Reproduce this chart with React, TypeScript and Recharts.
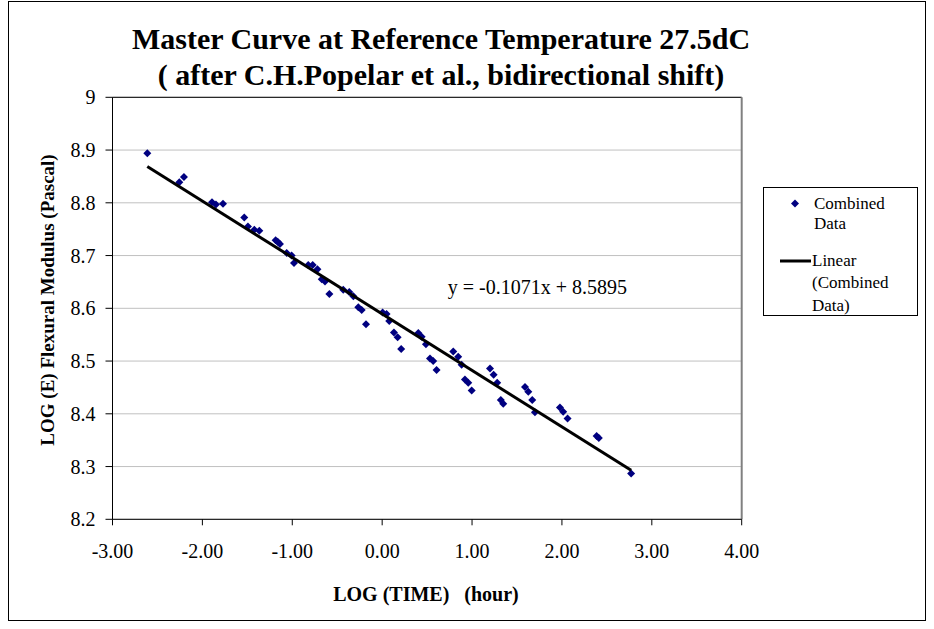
import React from 'react';
import {
  ScatterChart,
  Scatter,
  XAxis,
  YAxis,
  CartesianGrid,
  ReferenceLine,
  ReferenceDot,
} from 'recharts';

// Combined data
const logTime = [
  -2.613, -2.257, -2.205, -1.893, -1.849, -1.771, -1.534, -1.493, -1.422, -1.367,
  -1.185, -1.162, -1.137, -1.062, -1.007, -0.981, -0.822, -0.773, -0.72, -0.672,
  -0.636, -0.587, -0.433, -0.366, -0.32, -0.265, -0.228, -0.18, 0.005, 0.049,
  0.079, 0.131, 0.172, 0.212, 0.402, 0.439, 0.487, 0.532, 0.568, 0.605,
  0.791, 0.846, 0.884, 0.921, 0.958, 0.996, 1.2, 1.24, 1.28, 1.32,
  1.347, 1.589, 1.626, 1.67, 1.7, 1.978, 2.014, 2.063, 2.386, 2.41, 2.77,
];
const logE = [
  8.894, 8.839, 8.849, 8.801, 8.797, 8.798, 8.772, 8.755, 8.749, 8.747,
  8.729, 8.726, 8.722, 8.705, 8.7, 8.686, 8.682, 8.682, 8.674, 8.655,
  8.651, 8.627, 8.635, 8.631, 8.623, 8.602, 8.597, 8.57, 8.592, 8.589,
  8.576, 8.554, 8.545, 8.523, 8.553, 8.546, 8.532, 8.505, 8.5, 8.483,
  8.518, 8.508, 8.493, 8.465, 8.459, 8.444, 8.486, 8.474, 8.459, 8.426,
  8.419, 8.451, 8.442, 8.426, 8.403, 8.412, 8.404, 8.391, 8.358, 8.354, 8.287,
];

// linear trendline end points
const trendX = [-2.613, 2.77];
const trendY = [8.869, 8.293];

const xTicks = [-3, -2, -1, 0, 1, 2, 3, 4];
const yTicks = [8.2, 8.3, 8.4, 8.5, 8.6, 8.7, 8.8, 8.9, 9];

const equation = 'y = -0.1071x + 8.5895';

const points = logTime.map((x, i) => ({ x, y: logE[i] }));
const trend = trendX.map((x, i) => ({ x, y: trendY[i] }));

const FONT = '"Liberation Serif", "Times New Roman", serif';
const NAVY = '#000080';

const Diamond = (props: any) => {
  const { cx, cy } = props;
  if (cx == null || cy == null) return null;
  const r = 4;
  return (
    <path
      d={`M${cx},${cy - r}L${cx + r},${cy}L${cx},${cy + r}L${cx - r},${cy}Z`}
      fill={NAVY}
    />
  );
};

// legend box, drawn by hand like the Excel one
const LegendBox = () => (
  <div
    style={{
      position: 'absolute',
      left: 763,
      top: 187,
      width: 155,
      height: 129,
      boxSizing: 'border-box',
      border: '1px solid #000',
      background: '#fff',
      fontFamily: FONT,
      fontSize: 17,
      color: '#000',
      lineHeight: '21px',
    }}
  >
    <svg width={155} height={129} style={{ position: 'absolute', left: 0, top: 0 }}>
      <path d="M31,11.5L35,15.5L31,19.5L27,15.5Z" fill={NAVY} />
      <line x1={16} y1={73} x2={47} y2={73} stroke="#000" strokeWidth={3} />
    </svg>
    <div style={{ position: 'absolute', left: 50, top: 5 }}>Combined</div>
    <div style={{ position: 'absolute', left: 50, top: 25 }}>Data</div>
    <div style={{ position: 'absolute', left: 48, top: 62 }}>Linear</div>
    <div style={{ position: 'absolute', left: 48, top: 84 }}>(Combined</div>
    <div style={{ position: 'absolute', left: 48, top: 107 }}>Data)</div>
  </div>
);

export default function App() {
  return (
    <div
      style={{
        position: 'absolute',
        left: 0,
        top: 0,
        width: 934,
        height: 629,
        background: '#fff',
        fontFamily: FONT,
      }}
    >
      <div
        style={{
          position: 'absolute',
          left: 8,
          top: 1,
          width: 918,
          height: 620,
          border: '1px solid #000',
          boxSizing: 'border-box',
        }}
      />
      <div
        style={{
          position: 'absolute',
          left: 0,
          top: 21,
          width: 882,
          textAlign: 'center',
          fontSize: 30,
          fontWeight: 'bold',
          lineHeight: '36px',
          color: '#000',
        }}
      >
        Master Curve at Reference Temperature 27.5dC
        <br />( after C.H.Popelar et al., bidirectional shift)
      </div>
      <ScatterChart
        width={934}
        height={629}
        margin={{ top: 97.3, right: 192.3, bottom: 49.7, left: 52.5 }}
        style={{ position: 'absolute', left: 0, top: 0 }}
      >
        <CartesianGrid vertical={false} stroke="#c0c0c0" strokeWidth={1} />
        <XAxis
          type="number"
          dataKey="x"
          domain={[-3, 4]}
          ticks={xTicks}
          tickFormatter={(v: number) => v.toFixed(2)}
          axisLine={{ stroke: '#000' }}
          tickLine={{ stroke: '#000' }}
          tickSize={6}
          tickMargin={18}
          height={60}
          tick={{ fill: '#000', fontSize: 20, fontFamily: FONT }}
          label={{
            content: () => (
              <text
                x={426}
                y={594}
                textAnchor="middle"
                dominantBaseline="central"
                fontFamily={FONT}
                fontSize={20}
                fontWeight="bold"
                fill="#000"
              >
                LOG (TIME)&#160;&#160; (hour)
              </text>
            ),
          }}
        />
        <YAxis
          type="number"
          dataKey="y"
          domain={[8.2, 9]}
          ticks={yTicks}
          tickFormatter={(v: number) => String(Number(v.toFixed(1)))}
          axisLine={{ stroke: '#000' }}
          tickLine={{ stroke: '#000' }}
          tickSize={7}
          tickMargin={10}
          width={60}
          tick={{ fill: '#000', fontSize: 20, fontFamily: FONT }}
          label={{
            content: () => (
              <text
                x={47}
                y={300}
                textAnchor="middle"
                dominantBaseline="central"
                transform="rotate(-90, 47, 300)"
                fontFamily={FONT}
                fontSize={19}
                fontWeight="bold"
                fill="#000"
              >
                LOG (E) Flexural Modulus (Pascal)
              </text>
            ),
          }}
        />
        <ReferenceLine y={9} stroke="#000" strokeWidth={1} />
        <ReferenceLine x={4} stroke="#808080" strokeWidth={2} />
        <Scatter
          name="Combined Data"
          data={points}
          shape={<Diamond />}
          isAnimationActive={false}
        />
        <Scatter
          name="Linear (Combined Data)"
          data={trend}
          line={{ stroke: '#000', strokeWidth: 3 }}
          shape={() => null}
          isAnimationActive={false}
        />
        <ReferenceDot
          x={0.73}
          y={8.64}
          r={0}
          stroke="none"
          fill="none"
          label={{
            value: equation,
            position: 'right',
            offset: 0,
            fill: '#000',
            fontSize: 20,
            fontFamily: FONT,
          }}
        />
      </ScatterChart>
      <LegendBox />
    </div>
  );
}
